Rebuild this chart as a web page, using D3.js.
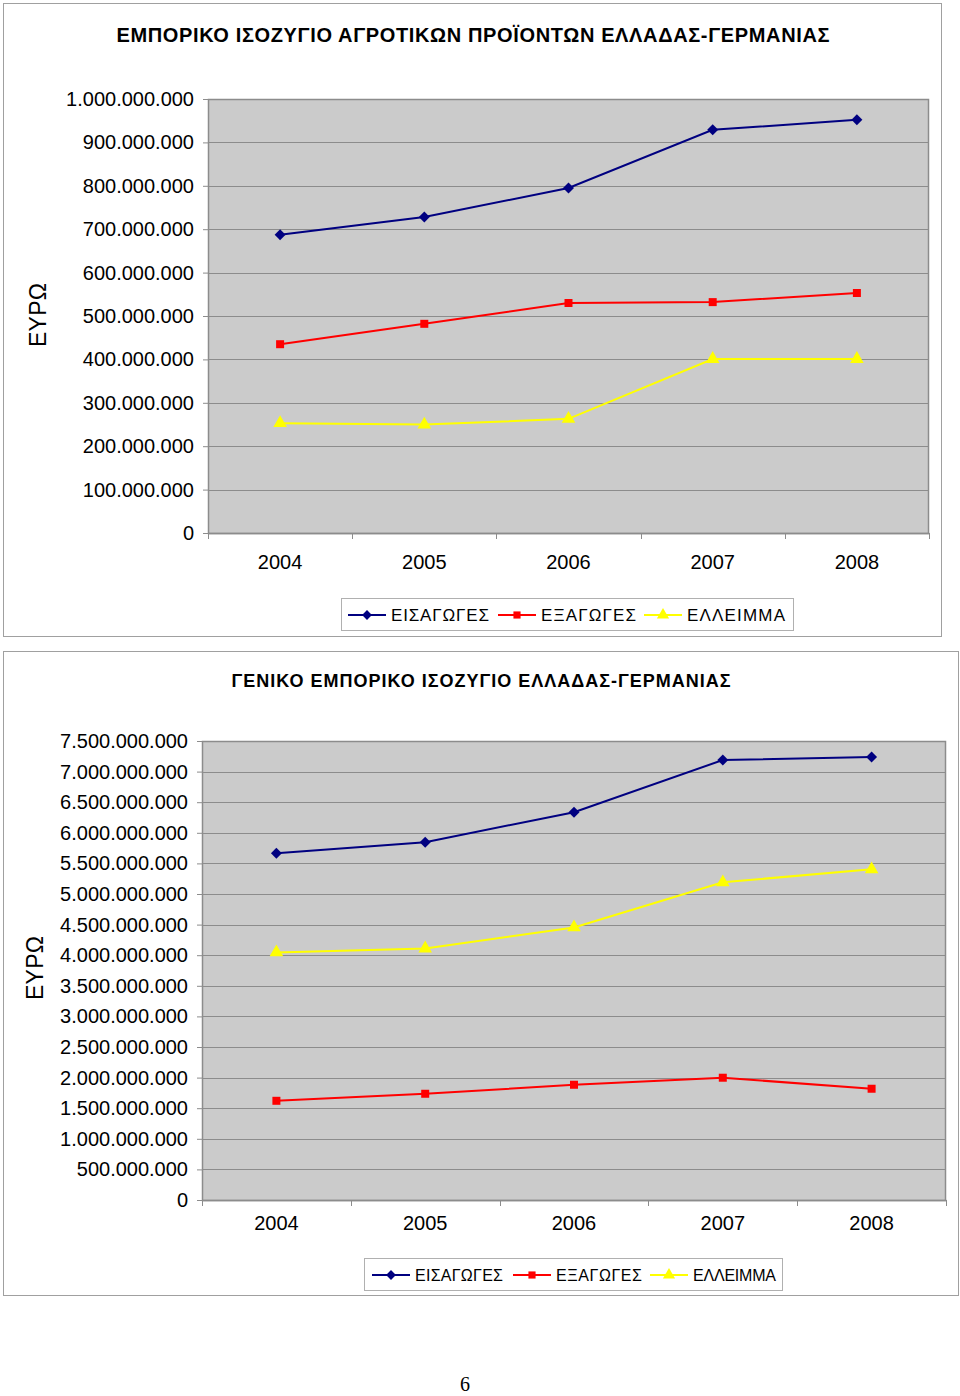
<!DOCTYPE html>
<html><head><meta charset="utf-8">
<script src="https://cdn.jsdelivr.net/npm/d3@7"></script>
<style>body{margin:0;background:#fff}svg{display:block}text{font-family:"Liberation Sans",Arial,sans-serif;fill:#000}</style>
</head><body><svg id="c" width="960" height="1396"></svg>
<script>
const years = ["2004","2005","2006","2007","2008"];
const seriesNames = ["ΕΙΣΑΓΩΓΕΣ","ΕΞΑΓΩΓΕΣ","ΕΛΛΕΙΜΜΑ"];
// Chart 1: agricultural products
const agriImports = [687e6, 728e6, 795e6, 929e6, 952e6];
const agriExports = [435e6, 482e6, 530e6, 532e6, 553e6];
const agriDeficit = [253e6, 250e6, 263e6, 401e6, 401e6];
const agriTicks = [0,1e8,2e8,3e8,4e8,5e8,6e8,7e8,8e8,9e8,1e9];
// Chart 2: general trade balance
const genImports = [5.666e9, 5.846e9, 6.337e9, 7.189e9, 7.238e9];
const genExports = [1.621e9, 1.736e9, 1.883e9, 1.998e9, 1.818e9];
const genDeficit = [4.045e9, 4.110e9, 4.454e9, 5.191e9, 5.404e9];
const genTicks = d3.range(0, 7.5e9 + 1, 5e8);

const colors = ["#000080","#ff0000","#ffff00"];
const markers = [d3.symbolSquare, d3.symbolSquare, d3.symbolTriangle];
const mRot = [45, 0, 0];
const mSizes = [60, 64, 80];
const fmt = v => v === 0 ? "0" : d3.format(",")(v).replace(/,/g, ".");

const svg = d3.select("#c");

function drawChart(o) {
  const g = svg.append("g");
  g.append("rect").attr("x", o.frame[0] + 0.5).attr("y", o.frame[1] + 0.5)
    .attr("width", o.frame[2] - o.frame[0]).attr("height", o.frame[3] - o.frame[1])
    .attr("fill", "#fff").attr("stroke", "#a0a0a0");
  g.append("text").attr("x", o.titleX).attr("y", o.titleY).attr("text-anchor", "middle")
    .attr("font-weight", "bold").attr("font-size", o.titleSize).attr("textLength", o.titleLen)
    .text(o.title);
  const x = d3.scaleBand().domain(years).range([o.plot[0], o.plot[2]]);
  const y = d3.scaleLinear().domain([0, o.max]).range([o.plot[3], o.plot[1]]);
  g.append("rect").attr("x", o.plot[0]).attr("y", o.plot[1])
    .attr("width", o.plot[2] - o.plot[0]).attr("height", o.plot[3] - o.plot[1])
    .attr("fill", "#cbcbcb");
  g.selectAll(".grid").data(o.ticks.slice(1, -1)).join("line")
    .attr("x1", o.plot[0]).attr("x2", o.plot[2])
    .attr("y1", d => Math.round(y(d)) + 0.5).attr("y2", d => Math.round(y(d)) + 0.5)
    .attr("stroke", "#8c8c8c").attr("stroke-width", 1);
  g.append("rect").attr("x", o.plot[0] + 0.5).attr("y", o.plot[1] + 0.5)
    .attr("width", o.plot[2] - o.plot[0] - 1).attr("height", o.plot[3] - o.plot[1])
    .attr("fill", "none").attr("stroke", "#8c8c8c").attr("stroke-width", 1.5);
  const ya = d3.axisLeft(y).tickValues(o.ticks).tickFormat(fmt).tickSize(5).tickPadding(9);
  const yg = g.append("g").attr("transform", `translate(${o.plot[0]},0)`).call(ya);
  yg.select(".domain").attr("stroke", "#8c8c8c");
  yg.selectAll(".tick line").attr("stroke", "#8c8c8c");
  yg.selectAll(".tick text").attr("font-size", o.tickSize).attr("font-family", "Liberation Sans, Arial, sans-serif").attr("fill", "#000");
  const xa = d3.axisBottom(x).tickSize(0).tickPadding(o.xPad);
  const xg = g.append("g").attr("transform", `translate(0,${o.plot[3]})`).call(xa);
  xg.select(".domain").attr("stroke", "#8c8c8c").attr("stroke-width", 1.5);
  xg.selectAll(".tick text").attr("font-size", 20).attr("font-family", "Liberation Sans, Arial, sans-serif").attr("fill", "#000");
  const bounds = years.map(d => x(d)).concat([o.plot[2]]);
  g.selectAll(".xt").data(bounds).join("line")
    .attr("x1", d => Math.round(d) + 0.5).attr("x2", d => Math.round(d) + 0.5)
    .attr("y1", o.plot[3]).attr("y2", o.plot[3] + 6).attr("stroke", "#8c8c8c");
  g.append("text").attr("transform", `translate(${o.yLabX},${o.yLabY}) rotate(-90)`)
    .attr("text-anchor", "middle").attr("font-size", 23).attr("textLength", 64).text("ΕΥΡΩ");
  const line = d3.line().x((d, i) => x(years[i]) + x.bandwidth() / 2).y(d => y(d));
  o.series.forEach((s, k) => {
    g.append("path").datum(s).attr("d", line).attr("fill", "none")
      .attr("stroke", colors[k]).attr("stroke-width", 2);
  });
  o.series.forEach((s, k) => {
    g.selectAll(".m" + k).data(s).join("path")
      .attr("transform", (d, i) => `translate(${x(years[i]) + x.bandwidth() / 2},${y(d)}) rotate(${mRot[k]})`)
      .attr("d", d3.symbol(markers[k], mSizes[k]))
      .attr("fill", colors[k]);
  });
  const L = o.legend;
  g.append("rect").attr("x", L.box[0] + 0.5).attr("y", L.box[1] + 0.5)
    .attr("width", L.box[2] - L.box[0]).attr("height", L.box[3] - L.box[1])
    .attr("fill", "#fff").attr("stroke", "#b0b0b0");
  const cy = (L.box[1] + L.box[3]) / 2 + 1;
  seriesNames.forEach((n, k) => {
    const lx = L.lines[k];
    g.append("line").attr("x1", lx).attr("x2", lx + 38).attr("y1", cy).attr("y2", cy)
      .attr("stroke", colors[k]).attr("stroke-width", 2);
    g.append("path").attr("transform", `translate(${lx + 19},${cy}) rotate(${mRot[k]})`)
      .attr("d", d3.symbol(markers[k], mSizes[k] * 0.8)).attr("fill", colors[k]);
    g.append("text").attr("x", lx + 43).attr("y", cy).attr("dy", "0.35em")
      .attr("font-size", L.size).attr("textLength", L.lens[k]).text(n);
  });
}

drawChart({
  frame: [3, 3, 941, 636],
  title: "ΕΜΠΟΡΙΚΟ ΙΣΟΖΥΓΙΟ ΑΓΡΟΤΙΚΩΝ ΠΡΟΪΟΝΤΩΝ ΕΛΛΑΔΑΣ-ΓΕΡΜΑΝΙΑΣ",
  titleX: 473, titleY: 42, titleSize: 20, titleLen: 713,
  plot: [208, 99, 929, 533], max: 1e9, ticks: agriTicks, tickSize: 20, xPad: 22,
  yLabX: 46, yLabY: 315,
  series: [agriImports, agriExports, agriDeficit],
  legend: { box: [341, 598, 793, 630], lines: [348, 498, 644], size: 17, lens: [98, 95, 98] }
});
drawChart({
  frame: [3, 651, 958, 1295],
  title: "ΓΕΝΙΚΟ ΕΜΠΟΡΙΚΟ ΙΣΟΖΥΓΙΟ ΕΛΛΑΔΑΣ-ΓΕΡΜΑΝΙΑΣ",
  titleX: 481, titleY: 687, titleSize: 18, titleLen: 499,
  plot: [202, 741, 946, 1200], max: 7.5e9, ticks: genTicks, tickSize: 20, xPad: 16,
  yLabX: 43, yLabY: 968,
  series: [genImports, genExports, genDeficit],
  legend: { box: [364, 1258, 782, 1290], lines: [372, 513, 650], size: 16, lens: [88, 86, 83] }
});
svg.append("text").attr("x", 465).attr("y", 1391).attr("text-anchor", "middle")
  .style("font-family", "Liberation Serif, serif").attr("font-size", 20).text("6");
</script></body></html>
